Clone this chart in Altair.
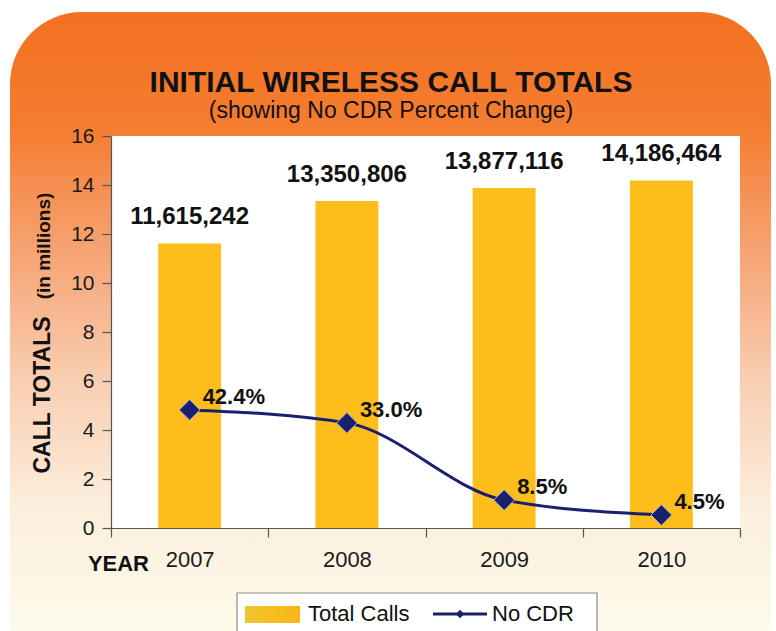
import altair as alt
import pandas as pd

# ---- data ----
years = ["2007", "2008", "2009", "2010"]
total_calls = [11615242, 13350806, 13877116, 14186464]
no_cdr_pct = [42.4, 33.0, 8.5, 4.5]
# height of the No CDR markers, read on the call-total axis (millions)
no_cdr_marker = [4.82, 4.29, 1.14, 0.53]
y_ticks = [0, 2, 4, 6, 8, 10, 12, 14, 16]

FONT = "Liberation Sans"
NAVY = "#1A1F6E"
BAR = "#FDBE1C"

df = pd.DataFrame({"year": years, "calls": total_calls,
                   "pct": no_cdr_pct, "marker": no_cdr_marker})
df["millions"] = df["calls"] / 1e6
df["pct_label"] = df["pct"].map(lambda v: f"{v:.1f}%")

W, H = 629, 392
one = pd.DataFrame({"k": [0]})

x_enc = alt.X("year:N", sort=years,
              scale=alt.Scale(paddingInner=0, paddingOuter=0),
              axis=alt.Axis(title=None, tickBand="extent", tickExtra=True,
                            labelFontSize=22, labelFont=FONT, labelColor="#1a1a1a",
                            labelPadding=12, labelAngle=0, tickSize=9,
                            tickColor="#555", domainColor="#555", tickWidth=1.2,
                            domainWidth=1.2, zindex=1))
y_scale = alt.Scale(domain=[0, 16], nice=False, zero=True)
y_axis = alt.Axis(title=None, values=y_ticks, labelFontSize=21, labelFont=FONT,
                  labelColor="#1a1a1a", labelPadding=8, tickSize=9,
                  tickColor="#555", domainColor="#555", tickWidth=1.2,
                  domainWidth=1.2, grid=False, zindex=1)

bg_grad = alt.Gradient(
    gradient="linear", x1=0, x2=0, y1=0, y2=1,
    stops=[alt.GradientStop(color="#F37021", offset=0),
           alt.GradientStop(color="#F47D30", offset=0.19),
           alt.GradientStop(color="#F6A272", offset=0.38),
           alt.GradientStop(color="#F9CFB3", offset=0.6),
           alt.GradientStop(color="#FCEEDC", offset=0.8),
           alt.GradientStop(color="#FDFBEA", offset=1)])

background = alt.Chart(one).mark_rect(
    color=bg_grad, cornerRadiusTopLeft=72, cornerRadiusTopRight=72
).encode(x=alt.value(-101), x2=alt.value(660), y=alt.value(-124), y2=alt.value(495))

plot_bg = alt.Chart(one).mark_rect(color="white").encode(
    x=alt.value(0), x2=alt.value(W), y=alt.value(0), y2=alt.value(H))

bars = alt.Chart(df).mark_bar(color=BAR, width=alt.RelativeBandSize(0.4)).encode(
    x=x_enc, y=alt.Y("millions:Q", scale=y_scale, axis=y_axis))

bar_labels = alt.Chart(df).mark_text(
    font=FONT, fontSize=24, fontWeight="bold", color="#111",
    baseline="alphabetic", dy=-19
).encode(x=alt.X("year:N", sort=years), y=alt.Y("millions:Q"),
         text=alt.Text("calls:Q", format=",d"))

line = alt.Chart(df).mark_line(color=NAVY, strokeWidth=3, interpolate="monotone").encode(
    x=alt.X("year:N", sort=years), y=alt.Y("marker:Q"))

points = alt.Chart(df).mark_point(
    shape="diamond", filled=True, size=430, color=NAVY, opacity=1,
    stroke="#AEB4DC", strokeWidth=1
).encode(x=alt.X("year:N", sort=years), y=alt.Y("marker:Q"))

pct_labels = alt.Chart(df).mark_text(
    font=FONT, fontSize=22, fontWeight="bold", color="#111",
    align="left", baseline="alphabetic", dx=13, dy=-6
).encode(x=alt.X("year:N", sort=years), y=alt.Y("marker:Q"), text="pct_label:N")

def label(text, x, y, size, weight="normal", angle=0, align="center", baseline="alphabetic"):
    kw = dict(font=FONT, fontSize=size, fontWeight=weight, color="#111",
              align=align, baseline=baseline, text=text)
    if angle:
        kw["angle"] = angle
    return alt.Chart(one).mark_text(**kw).encode(x=alt.value(x), y=alt.value(y))

title = label("INITIAL WIRELESS CALL TOTALS", 280, -44, 30, "bold")
subtitle = label("(showing No CDR Percent Change)", 280, -18, 23)
ytitle1 = label("CALL TOTALS", -61, 259, 23, "bold", angle=270)
ytitle2 = label("(in millions)", -61, 110, 19, "bold", angle=270)
year_lbl = label("YEAR", 38, 435, 22, "bold", align="right")

# legend
leg_box = alt.Chart(one).mark_rect(fill="white", stroke="#8a8a8a", strokeWidth=1.2).encode(
    x=alt.value(126), x2=alt.value(486), y=alt.value(457), y2=alt.value(520))
sw_grad = alt.Gradient(gradient="linear", x1=0, x2=1, y1=0, y2=0,
                       stops=[alt.GradientStop(color="#EFC52E", offset=0),
                              alt.GradientStop(color="#FDB515", offset=1)])
leg_swatch = alt.Chart(one).mark_rect(color=sw_grad).encode(
    x=alt.value(134), x2=alt.value(189), y=alt.value(470), y2=alt.value(487))
leg_t1 = label("Total Calls", 197, 485, 22, align="left")
leg_line = alt.Chart(one).mark_rule(color=NAVY, strokeWidth=3).encode(
    x=alt.value(322), x2=alt.value(376), y=alt.value(478))
leg_pt = alt.Chart(one).mark_point(shape="diamond", filled=True, size=70, color=NAVY,
                                   opacity=1).encode(x=alt.value(349), y=alt.value(478))
leg_t2 = label("No CDR", 381, 485, 22, align="left")

chart = alt.layer(
    background, plot_bg, bars, bar_labels, line, points, pct_labels,
    title, subtitle, ytitle1, ytitle2, year_lbl,
    leg_box, leg_swatch, leg_t1, leg_line, leg_pt, leg_t2
).properties(
    width=W, height=H,
    autosize=alt.AutoSizeParams(type="none"),
    padding={"left": 111, "top": 136, "right": 36, "bottom": 103},
    background="white"
).configure_view(stroke=None)

chart.save("out.html", embed_options={"renderer": "svg", "actions": False})
